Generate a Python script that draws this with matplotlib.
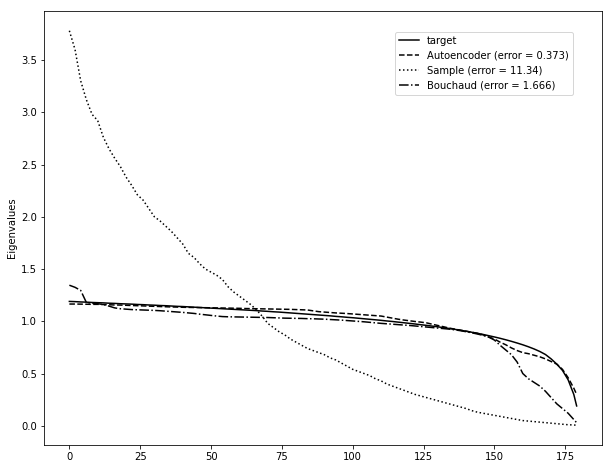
import matplotlib
matplotlib.use("Agg")
import matplotlib.pyplot as plt

# eigenvalue index (every second one, plus the last)
idx = list(range(0, 180, 2)) + [179]

target = [1.190, 1.188, 1.185, 1.183, 1.180, 1.178, 1.176, 1.173, 1.171, 1.168,
          1.166, 1.164, 1.161, 1.159, 1.156, 1.154, 1.151, 1.149, 1.146, 1.143,
          1.141, 1.138, 1.135, 1.132, 1.129, 1.126, 1.123, 1.120, 1.117, 1.114,
          1.111, 1.108, 1.105, 1.102, 1.098, 1.095, 1.091, 1.088, 1.084, 1.080,
          1.076, 1.072, 1.068, 1.064, 1.060, 1.056, 1.052, 1.047, 1.043, 1.038,
          1.034, 1.029, 1.024, 1.019, 1.014, 1.009, 1.003, 0.998, 0.992, 0.986,
          0.980, 0.974, 0.967, 0.961, 0.954, 0.947, 0.939, 0.931, 0.923, 0.914,
          0.905, 0.895, 0.885, 0.874, 0.862, 0.850, 0.837, 0.823, 0.808, 0.792,
          0.775, 0.756, 0.735, 0.711, 0.682, 0.640, 0.590, 0.530, 0.440, 0.300,
          0.190]

autoencoder = [1.165, 1.165, 1.164, 1.163, 1.162, 1.162, 1.160, 1.158, 1.156, 1.155,
               1.153, 1.151, 1.149, 1.147, 1.145, 1.143, 1.141, 1.139, 1.137, 1.136,
               1.134, 1.133, 1.132, 1.131, 1.130, 1.129, 1.128, 1.127, 1.126, 1.125,
               1.124, 1.122, 1.121, 1.120, 1.119, 1.118, 1.117, 1.116, 1.115, 1.114,
               1.112, 1.110, 1.108, 1.100, 1.092, 1.088, 1.084, 1.080, 1.077, 1.074,
               1.070, 1.066, 1.062, 1.058, 1.054, 1.050, 1.040, 1.030, 1.020, 1.012,
               1.005, 0.998, 0.992, 0.985, 0.972, 0.960, 0.948, 0.935, 0.925, 0.915,
               0.905, 0.895, 0.885, 0.870, 0.850, 0.830, 0.800, 0.775, 0.745, 0.720,
               0.700, 0.690, 0.675, 0.660, 0.640, 0.615, 0.590, 0.540, 0.460, 0.360,
               0.300]

sample = [3.78, 3.60, 3.30, 3.12, 2.98, 2.92, 2.76, 2.65, 2.56, 2.48,
          2.38, 2.30, 2.21, 2.16, 2.08, 2.00, 1.96, 1.91, 1.86, 1.80,
          1.74, 1.65, 1.61, 1.55, 1.50, 1.47, 1.44, 1.40, 1.33, 1.28,
          1.24, 1.20, 1.16, 1.11, 1.05, 0.98, 0.94, 0.90, 0.87, 0.83,
          0.80, 0.77, 0.74, 0.72, 0.70, 0.68, 0.65, 0.63, 0.60, 0.57,
          0.54, 0.52, 0.50, 0.48, 0.45, 0.43, 0.40, 0.38, 0.36, 0.34,
          0.32, 0.30, 0.285, 0.27, 0.255, 0.24, 0.225, 0.21, 0.195, 0.18,
          0.165, 0.145, 0.13, 0.12, 0.11, 0.10, 0.09, 0.08, 0.07, 0.06,
          0.05, 0.045, 0.04, 0.035, 0.03, 0.025, 0.02, 0.015, 0.01, 0.008,
          0.005]

bouchaud = [1.345, 1.325, 1.295, 1.180, 1.172, 1.168, 1.160, 1.145, 1.128, 1.120,
            1.116, 1.112, 1.110, 1.108, 1.106, 1.104, 1.101, 1.097, 1.093, 1.089,
            1.085, 1.080, 1.075, 1.068, 1.062, 1.056, 1.050, 1.045, 1.043, 1.042,
            1.041, 1.040, 1.039, 1.038, 1.037, 1.036, 1.034, 1.032, 1.030, 1.029,
            1.028, 1.027, 1.025, 1.024, 1.022, 1.020, 1.017, 1.014, 1.011, 1.007,
            1.003, 0.999, 0.995, 0.990, 0.985, 0.980, 0.976, 0.972, 0.968, 0.964,
            0.960, 0.955, 0.950, 0.945, 0.940, 0.935, 0.930, 0.925, 0.918, 0.910,
            0.900, 0.890, 0.878, 0.865, 0.848, 0.820, 0.770, 0.725, 0.680, 0.610,
            0.500, 0.450, 0.415, 0.380, 0.330, 0.270, 0.210, 0.165, 0.120, 0.060,
            0.030]

labels = ["target",
          "Autoencoder (error = 0.373)",
          "Sample (error = 11.34)",
          "Bouchaud (error = 1.666)"]

fig = plt.figure(figsize=(8.5, 469 / 72), dpi=72)
ax = fig.add_axes([44 / 612, 24 / 469, 558 / 612, 434 / 469])

ax.plot(idx, target, color="black", linestyle="-")
ax.plot(idx, autoencoder, color="black", linestyle="--")
ax.plot(idx, sample, color="black", linestyle=":")
ax.plot(idx, bouchaud, color="black", linestyle="-.")

ax.set_ylabel("Eigenvalues")
ax.legend(labels, loc="upper right", bbox_to_anchor=(0.957, 0.964))

fig.savefig("out.png", dpi=72, facecolor="white")
